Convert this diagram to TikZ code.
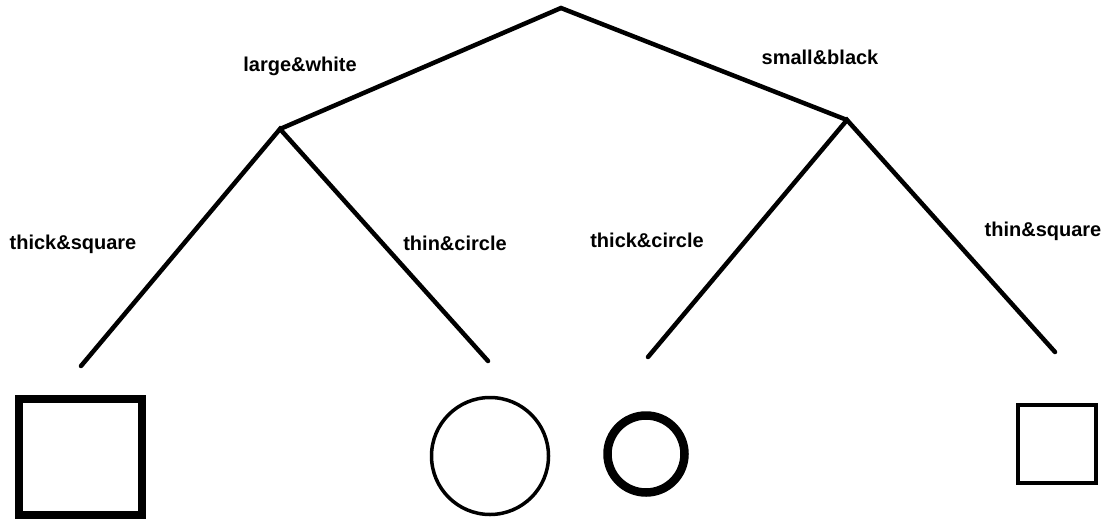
\documentclass[tikz,border=0pt]{standalone}
\usepackage{fontspec}
\setmainfont{Liberation Sans}

\begin{document}
\begin{tikzpicture}[
  x=1pt,y=-1pt,
  branch/.style={line width=4.5pt,line cap=round},
  lbl/.style={font=\fontsize{20}{24}\selectfont\bfseries,inner sep=0pt},
  heavy/.style={draw,line width=8.5pt,inner sep=0pt},
  light/.style={draw,line width=3.5pt,inner sep=0pt}
]
  \useasboundingbox (0,0) rectangle (1110,519);

  % tree points
  \coordinate (root) at (561,8);
  \coordinate (lw) at (280,129);
  \coordinate (sb) at (847,120);
  \coordinate (tsq) at (81,366);
  \coordinate (tci) at (488,361);
  \coordinate (kci) at (648,357);
  \coordinate (nsq) at (1055,352);

  \draw[branch] (lw) -- (root) -- (sb);
  \draw[branch] (tsq) -- (lw) -- (tci);
  \draw[branch] (kci) -- (sb) -- (nsq);

  % labels
  \node[lbl] (lwtxt) at (300,66) {large\&white};
  \node[lbl] (sbtxt) at (820,57) {small\&black};
  \node[lbl] (tsqtxt) at (73,244) {thick\&square};
  \node[lbl] (tcitxt) at (455,243) {thin\&circle};
  \node[lbl] (kcitxt) at (647,240) {thick\&circle};
  \node[lbl] (nsqtxt) at (1043,231) {thin\&square};

  % leaves
  \node[heavy,minimum width=123pt,minimum height=116pt] (bigsq) at (80.5,457) {};
  \node[light,circle,minimum size=117pt] (bigci) at (490,456) {};
  \node[heavy,circle,minimum size=77pt] (smallci) at (646,454) {};
  \node[draw,line width=4pt,inner sep=0pt,minimum size=78pt] (smallsq) at (1057,444) {};
\end{tikzpicture}
\end{document}
